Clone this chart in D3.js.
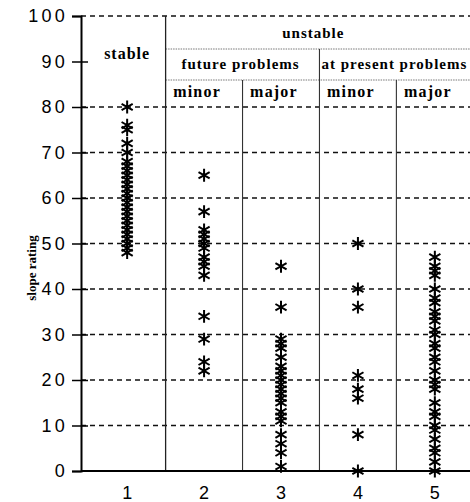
<!DOCTYPE html>
<html>
<head>
<meta charset="utf-8">
<script src="https://cdn.jsdelivr.net/npm/d3@7"></script>
<style>
  body { margin: 0; background: #fff; }
  svg { display: block; }
</style>
</head>
<body>
<div id="chart"></div>
<script>
// Slope ratings per class
const categories = [1, 2, 3, 4, 5];
const stableRatings = [80, 76, 75, 72, 70, 68, 67, 66, 65, 64, 63, 62, 61, 60, 59, 58, 57, 56, 55, 54, 53, 52, 51, 50, 49, 48];
const futureMinor = [65, 57, 53, 52, 51, 50, 49, 47, 46, 45, 43, 34, 29, 24, 22];
const futureMajor = [45, 36, 29, 28, 27, 25, 23, 22, 21, 20, 19, 18, 17, 16, 15, 13, 12, 11, 8, 6, 4, 1];
const presentMinor = [50, 40, 36, 21, 18, 16, 8, 0];
const presentMajor = [47, 45, 44, 43, 40, 38, 37, 35, 34, 33, 31, 30, 28, 27, 25, 24, 22, 20, 19, 18, 15, 13, 12, 10, 9, 7, 5, 4, 2, 0];
const yTicks = [0, 10, 20, 30, 40, 50, 60, 70, 80, 90, 100];
const gridValues = [10, 20, 30, 40, 50, 60, 70, 80, 100];

// Header labels
const topLabels = ['stable', 'unstable'];
const problemLabels = ['future problems', 'at present problems'];
const severityLabels = ['minor', 'major', 'minor', 'major'];

const columns = [stableRatings, futureMinor, futureMajor, presentMinor, presentMajor];

const width = 470;
const height = 502;

const svg = d3.select('#chart')
  .append('svg')
  .attr('width', width)
  .attr('height', height);

// Scales
const x = d3.scaleLinear().domain([0.4, 5.6]).range([81, 481]);
const y = d3.scaleLinear().domain([0, 100]).range([471, 16]);

const serif = '"Liberation Serif", "Times New Roman", serif';
const sans = '"Liberation Sans", Arial, sans-serif';

// Dashed grid lines
svg.append('g')
  .selectAll('line')
  .data(gridValues)
  .enter()
  .append('line')
  .attr('x1', x(0.4))
  .attr('x2', width)
  .attr('y1', d => y(d))
  .attr('y2', d => y(d))
  .attr('stroke', '#111')
  .attr('stroke-width', 1.4)
  .attr('stroke-dasharray', '5,4');

// Header dotted separators
const yUnstableLine = 49;
const ySeverityLine = 80;
[yUnstableLine, ySeverityLine].forEach(yy => {
  svg.append('line')
    .attr('x1', x(1.5))
    .attr('x2', width)
    .attr('y1', yy)
    .attr('y2', yy)
    .attr('stroke', '#777')
    .attr('stroke-width', 1)
    .attr('stroke-dasharray', '1.5,1');
});

// Vertical dividers between classes
svg.append('line')
  .attr('x1', x(1.5)).attr('x2', x(1.5))
  .attr('y1', y(100)).attr('y2', y(0))
  .attr('stroke', '#222').attr('stroke-width', 1.3);
svg.append('line')
  .attr('x1', x(3.5)).attr('x2', x(3.5))
  .attr('y1', yUnstableLine).attr('y2', y(0))
  .attr('stroke', '#333').attr('stroke-width', 1.1);
[2.5, 4.5].forEach(c => {
  svg.append('line')
    .attr('x1', x(c)).attr('x2', x(c))
    .attr('y1', ySeverityLine).attr('y2', y(0))
    .attr('stroke', '#333').attr('stroke-width', 1.1);
});

// Header text
const headerText = (txt, cx, cy, size, spacing) => {
  svg.append('text')
    .attr('x', cx)
    .attr('y', cy)
    .attr('text-anchor', 'middle')
    .attr('dominant-baseline', 'central')
    .style('font-family', serif)
    .style('font-weight', 'bold')
    .style('font-size', size + 'px')
    .style('letter-spacing', spacing + 'px')
    .text(txt);
};
headerText(topLabels[0], x(1), 53, 16, 1);
headerText(topLabels[1], x(3.42), 33, 15, 1);
headerText(problemLabels[0], x(2) + (x(3) - x(2)) / 2 - 2, 64, 15, 1);
headerText(problemLabels[1], x(4.5) - 2, 64, 15, 1);
severityLabels.forEach((s, i) => headerText(s, x(categories[i + 1]) - 7, 91, 16, 1.2));

// Y axis
const yAxis = d3.axisLeft(y)
  .tickValues(yTicks)
  .tickSize(9)
  .tickPadding(4)
  .tickFormat(d3.format('d'));

const gy = svg.append('g')
  .attr('transform', `translate(${x(0.4)},0)`)
  .call(yAxis);
gy.select('.domain').attr('stroke', '#000').attr('stroke-width', 2);
gy.selectAll('.tick line')
  .attr('stroke', '#000')
  .attr('stroke-width', 1.5)
  .attr('x1', d => (d > 0 && d < 100) ? 7 : 0);
gy.selectAll('.tick text')
  .style('font-family', sans)
  .style('font-size', '18px')
  .style('letter-spacing', '3.2px')
  .attr('fill', '#000');

// X axis
const gx = svg.append('g')
  .attr('transform', `translate(0,${y(0)})`);
gx.append('line')
  .attr('x1', x(0.4))
  .attr('x2', width)
  .attr('stroke', '#000')
  .attr('stroke-width', 2);
gx.selectAll('text')
  .data(categories)
  .enter()
  .append('text')
  .attr('x', d => x(d))
  .attr('y', 28)
  .attr('text-anchor', 'middle')
  .style('font-family', sans)
  .style('font-size', '18px')
  .text(d => d);

// Y axis label
svg.append('text')
  .attr('transform', 'translate(31,268) rotate(-90)')
  .attr('text-anchor', 'middle')
  .attr('dominant-baseline', 'central')
  .style('font-family', serif)
  .style('font-weight', 'bold')
  .style('font-size', '13px')
  .text('slope rating');

// Asterisk markers
const r = 6.4;
const asterisk = `M0,${-r}L0,${r}` +
  `M${-r * 0.87},${-r * 0.5}L${r * 0.87},${r * 0.5}` +
  `M${-r * 0.87},${r * 0.5}L${r * 0.87},${-r * 0.5}`;

const points = [];
columns.forEach((vals, i) => vals.forEach(v => points.push({ c: categories[i], v })));

svg.append('g')
  .selectAll('path')
  .data(points)
  .enter()
  .append('path')
  .attr('transform', d => `translate(${x(d.c)},${y(d.v)})`)
  .attr('d', asterisk)
  .attr('stroke', '#000')
  .attr('stroke-width', 2)
  .attr('fill', 'none');
</script>
</body>
</html>
